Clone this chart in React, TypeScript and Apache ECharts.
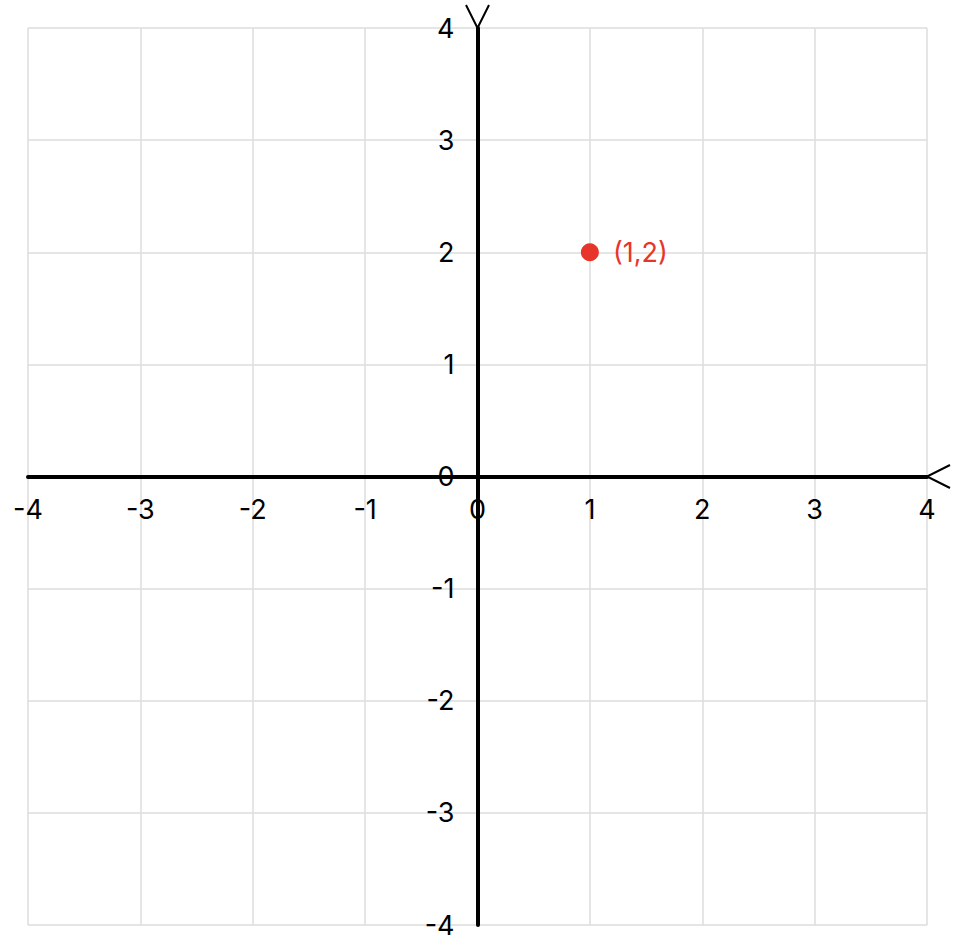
import React, { useEffect, useRef } from "react";
import * as echarts from "echarts";

const axisMin = -4;
const axisMax = 4;
const axisStep = 1;
const points: [number, number][] = [[1, 2]];
const pointLabels = ["(1,2)"];

const FONT = "Inter, 'Noto Sans', sans-serif";
const W = 962;
const H = 950;
const G = { left: 28, right: 35, top: 28, bottom: 25 };

export default function App() {
  const ref = useRef<HTMLDivElement>(null);
  useEffect(() => {
    document.body.style.margin = "0";
    if (!ref.current) return;
    const chart = echarts.init(ref.current, undefined, { renderer: "svg" });
    const gw = W - G.left - G.right;
    const gh = H - G.top - G.bottom;
    const axisCommon = {
      type: "value" as const,
      min: axisMin,
      max: axisMax,
      interval: axisStep,
      axisLine: { onZero: false, lineStyle: { color: "#000", width: 4 } },
      axisTick: { show: false },
      splitLine: { lineStyle: { color: "#dddddd", width: 1.5 } },
    };
    chart.setOption({
      animation: false,
      grid: { ...G, containLabel: false, outerBoundsMode: "none" },
      xAxis: {
        ...axisCommon,
        position: "bottom",
        offset: -gh / 2,
        axisLabel: { color: "#000", fontSize: 27, fontFamily: FONT, margin: 19 },
      },
      yAxis: {
        ...axisCommon,
        position: "left",
        offset: -gw / 2,
        axisLabel: { color: "#000", fontSize: 27, fontFamily: FONT, margin: 23 },
      },
      series: [
        {
          type: "scatter",
          data: points.map((p, i) => ({ value: p, label: { formatter: pointLabels[i] } })),
          symbolSize: 18,
          itemStyle: { color: "#e8352b", opacity: 1 },
          label: {
            show: true,
            position: "right",
            distance: 14,
            color: "#e8352b",
            fontSize: 27,
            fontFamily: FONT,
          },
        },
      ],
    });
    const xEnd = chart.convertToPixel({ gridIndex: 0 }, [axisMax, 0]) as number[];
    const yEnd = chart.convertToPixel({ gridIndex: 0 }, [0, axisMax]) as number[];
    const arm = 23;
    const half = 11.5;
    chart.setOption({
      graphic: [
        {
          type: "polyline",
          shape: {
            points: [
              [xEnd[0] + arm, xEnd[1] - half],
              [xEnd[0], xEnd[1]],
              [xEnd[0] + arm, xEnd[1] + half],
            ],
          },
          style: { stroke: "#000", lineWidth: 2, fill: "none" },
        },
        {
          type: "polyline",
          shape: {
            points: [
              [yEnd[0] - half, yEnd[1] - arm],
              [yEnd[0], yEnd[1]],
              [yEnd[0] + half, yEnd[1] - arm],
            ],
          },
          style: { stroke: "#000", lineWidth: 2, fill: "none" },
        },
      ],
    });
    return () => chart.dispose();
  }, []);
  return <div ref={ref} style={{ width: W, height: H }} />;
}
